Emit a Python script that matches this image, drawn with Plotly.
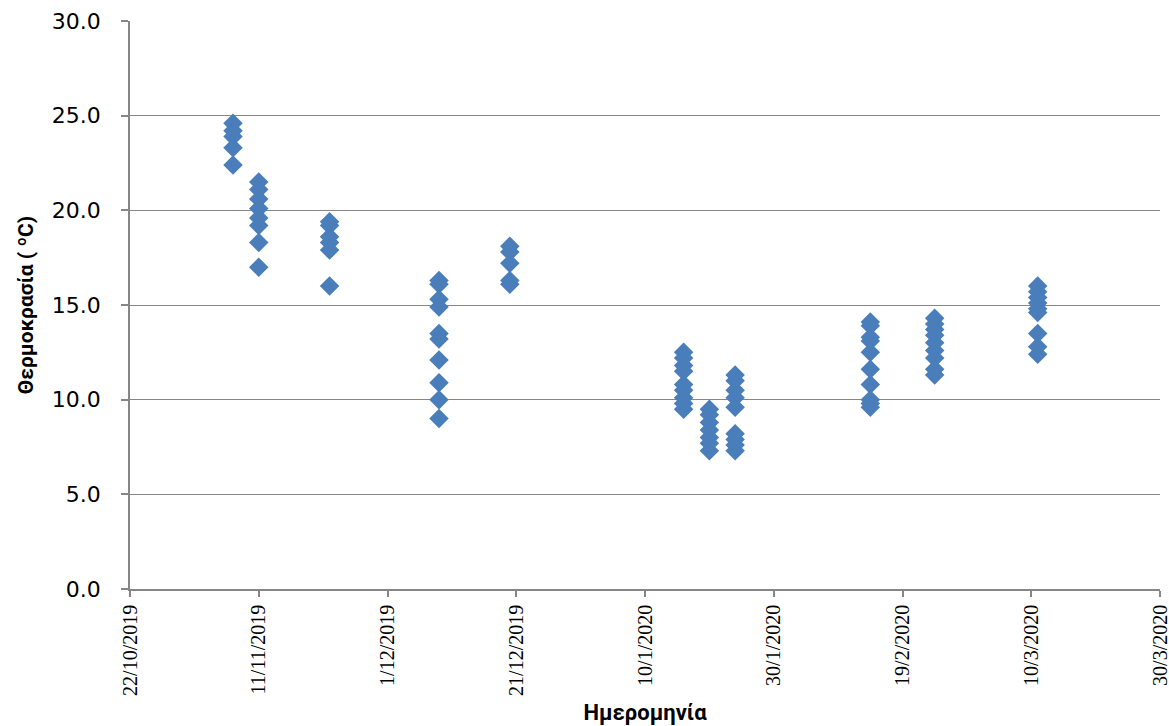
import plotly.graph_objects as go

# Sampling dates (one column of readings per date)
sample_dates = ["2019-11-07", "2019-11-11", "2019-11-22", "2019-12-09", "2019-12-20",
                "2020-01-16", "2020-01-20", "2020-01-24", "2020-02-14", "2020-02-24",
                "2020-03-11"]

# Temperatures (°C) read at each date
temps_by_date = [
    [24.6, 24.2, 23.9, 23.3, 22.4],
    [21.5, 21.1, 20.6, 20.1, 19.6, 19.2, 18.3, 17.0],
    [19.4, 19.2, 18.6, 18.3, 17.9, 16.0],
    [16.3, 16.1, 15.3, 14.9, 13.5, 13.2, 12.1, 10.9, 10.0, 9.0],
    [18.1, 17.8, 17.2, 16.3, 16.1],
    [12.5, 12.2, 11.8, 11.5, 10.8, 10.5, 10.1, 9.8, 9.5],
    [9.5, 9.2, 8.8, 8.4, 8.0, 7.7, 7.3],
    [11.3, 11.0, 10.5, 10.1, 9.6, 8.2, 7.9, 7.6, 7.3],
    [14.1, 13.9, 13.3, 13.1, 12.5, 11.6, 10.8, 10.0, 9.8, 9.6],
    [14.3, 14.0, 13.7, 13.4, 13.0, 12.6, 12.2, 11.6, 11.3],
    [16.0, 15.7, 15.4, 15.1, 14.8, 14.6, 13.5, 12.8, 12.4],
]

x_tick_dates = ["2019-10-22", "2019-11-11", "2019-12-01", "2019-12-21", "2020-01-10",
                "2020-01-30", "2020-02-19", "2020-03-10", "2020-03-30"]
x_tick_labels = ["22/10/2019", "11/11/2019", "1/12/2019", "21/12/2019", "10/1/2020",
                 "30/1/2020", "19/2/2020", "10/3/2020", "30/3/2020"]
y_ticks = [0, 5, 10, 15, 20, 25, 30]

xs, ys = [], []
for d, vals in zip(sample_dates, temps_by_date):
    for v in vals:
        xs.append(d)
        ys.append(v)

fig = go.Figure()
fig.add_trace(go.Scatter(
    x=xs, y=ys, mode="markers",
    marker=dict(symbol="diamond", size=15, color="#4A7EBB", line=dict(width=0)),
    showlegend=False,
))

axis_color = "#868686"
fig.update_layout(
    width=1169, height=726,
    margin=dict(l=130, r=9, t=21, b=137),
    paper_bgcolor="white", plot_bgcolor="white",
    font=dict(family="DejaVu Sans", color="black"),
    xaxis=dict(
        type="date",
        range=["2019-10-22", "2020-03-30"],
        tickmode="array", tickvals=x_tick_dates, ticktext=x_tick_labels,
        tickangle=-90,
        automargin=False,
        ticklabeloverflow="allow",
        tickfont=dict(family="Liberation Serif", size=20, color="black"),
        showgrid=False, zeroline=False,
        showline=True, linecolor=axis_color, linewidth=1.5,
        ticks="outside", ticklen=6, tickcolor=axis_color, tickwidth=1.5,
        title=dict(text="<b>Ημερομηνία</b>", font=dict(family="Roboto", size=22, color="black"),
                   standoff=10),
    ),
    yaxis=dict(
        range=[0, 30],
        tickmode="array", tickvals=y_ticks,
        tickformat=".1f",
        automargin=False,
        tickfont=dict(family="DejaVu Sans", size=22, color="black"),
        showgrid=True, gridcolor=axis_color, gridwidth=1,
        zeroline=False,
        showline=True, linecolor=axis_color, linewidth=1.5,
        ticks="outside", ticklen=7, tickcolor=axis_color, tickwidth=1.5,
        ticklabelstandoff=16,
        title=dict(text="<b>Θερμοκρασία ( ºC)</b>", font=dict(family="Roboto", size=21, color="black"),
                   standoff=13),
    ),
)

fig.write_html("out.html")
